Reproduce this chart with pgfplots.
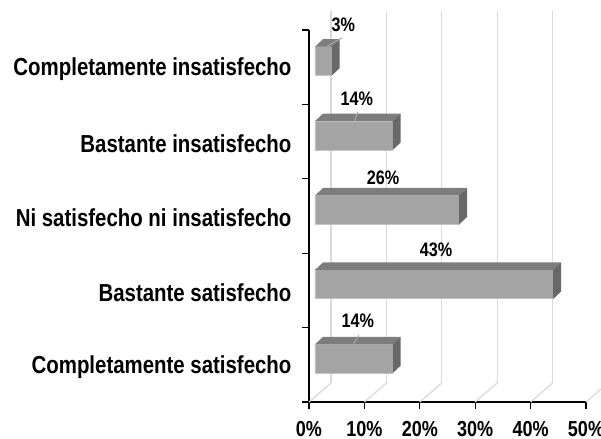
\documentclass[border=0pt]{standalone}
\usepackage{fontspec}
\setmainfont{Liberation Sans}
\newfontfamily\narrowfont[FakeStretch=0.83]{Liberation Sans}
\usepackage{pgfplots}
\usepackage{pgfplotstable}
\pgfplotsset{compat=1.18}
\pgfplotsset{/pgf/number format/assume math mode=true}

\definecolor{barfront}{HTML}{A4A4A4}
\definecolor{baredge}{HTML}{C4C4C4}
\definecolor{bartop}{HTML}{7D7D7D}
\definecolor{barside}{HTML}{686868}
\definecolor{gridgray}{HTML}{D9D9D9}
\definecolor{leadgray}{HTML}{A8A8A8}

% horizontal unit: bp per percentage point
\newcommand\xu{5.54}

% cat: position from the bottom, v: share in %,
% lx/ly: label offsets in bp, la/lb: leader line ends in bp (0 = none)
\pgfplotstableread{
cat v  lx ly   la lb
0   14 10 37   11 6
1   43  8 34   0  0
2   26  2 31.5 0  0
3   14  9 36.5 10 7
4   3  26 35.5 25 10
}\satisf

% top and right faces of a 3D bar, placed at the bar's end
\pgfdeclareplotmark{bar3d}{%
  \pgfmathsetmacro\barlen{\barval*\xu}%
  \pgfsetfillcolor{bartop}%
  \pgfpathmoveto{\pgfpoint{6bp-\barlen bp}{20.5bp}}%
  \pgfpathlineto{\pgfpoint{6bp}{20.5bp}}%
  \pgfpathlineto{\pgfpoint{14bp}{28bp}}%
  \pgfpathlineto{\pgfpoint{14bp-\barlen bp}{28bp}}%
  \pgfpathclose
  \pgfusepath{fill}%
  \pgfsetfillcolor{barside}%
  \pgfpathmoveto{\pgfpoint{6bp}{-8.5bp}}%
  \pgfpathlineto{\pgfpoint{14bp}{-1bp}}%
  \pgfpathlineto{\pgfpoint{14bp}{28bp}}%
  \pgfpathlineto{\pgfpoint{6bp}{20.5bp}}%
  \pgfpathclose
  \pgfusepath{fill}%
}

% short leader from a value label down to its bar (skipped when la = 0)
\pgfdeclareplotmark{leader}{%
  \ifdim\leada pt=0pt\relax\else
    \pgfsetstrokecolor{leadgray}%
    \pgfsetlinewidth{1bp}%
    \pgfpathmoveto{\pgfpoint{\leada bp}{29.5bp}}%
    \pgfpathlineto{\pgfpoint{\leadb bp}{21bp}}%
    \pgfusepath{stroke}%
  \fi
}

\begin{document}
\begin{tikzpicture}
\useasboundingbox (-309bp,-37bp) rectangle (292bp,402bp);
\begin{axis}[
  at={(0,0)}, anchor=south west,
  x=\xu bp, y=74.4bp,
  xmin=0, xmax=50, ymin=-0.5, ymax=4.5,
  clip=false,
  axis x line=bottom, axis y line=left,
  axis line style={-, line width=1.5bp, black},
  tick align=outside,
  major tick length=7bp,
  tick style={line width=1.3bp, black},
  xtick={0,10,...,50},
  xticklabel={\pgfmathprintnumber{\tick}\%},
  xticklabel style={font=\narrowfont\fontsize{21.7bp}{24bp}\selectfont\bfseries, anchor=base, inner sep=0pt, yshift=-27.5bp},
  xmajorgrids,
  major x grid style={draw=gridgray, line width=1.2bp, xshift=22bp, yshift=19bp},
  ytick={-0.5,0.5,...,4.5},
  yticklabels={},
  extra y ticks={0,1,2,3,4},
  extra y tick labels={Completamente satisfecho, Bastante satisfecho, Ni satisfecho ni insatisfecho, Bastante insatisfecho, Completamente insatisfecho},
  extra y tick style={major tick length=0pt},
  yticklabel style={font=\narrowfont\fontsize{24.6bp}{28bp}\selectfont\bfseries, anchor=east, xshift=-14bp, yshift=-2bp},
]
% floor lines running back from each tick
\pgfplotsinvokeforeach{0,10,20,30,40,50}{
  \draw[gridgray, line width=1.2bp] (axis cs:#1,-0.5) -- ++(22bp,19bp);
}
% front faces
\addplot[xbar, bar width=29bp, fill=barfront, draw=baredge, line width=0.8bp,
  xshift=6bp, yshift=6bp] table[x=v, y=cat] {\satisf};
% top and side faces
\addplot[only marks, mark=bar3d,
  visualization depends on={\thisrow{v} \as \barval}] table[x=v, y=cat] {\satisf};
% leader lines
\addplot[only marks, mark=leader,
  visualization depends on={\thisrow{la} \as \leada},
  visualization depends on={\thisrow{lb} \as \leadb}]
  table[x expr=\thisrow{v}/2, y=cat] {\satisf};
% value labels
\addplot[draw=none, mark=none,
  point meta=\thisrow{v},
  visualization depends on={\thisrow{lx} \as \labx},
  visualization depends on={\thisrow{ly} \as \laby},
  nodes near coords={\pgfmathprintnumber{\pgfplotspointmeta}\%},
  every node near coord/.append style={font=\narrowfont\fontsize{19.5bp}{22bp}\selectfont\bfseries,
    anchor=base, xshift=\labx bp, yshift=\laby bp, text=black}]
  table[x expr=\thisrow{v}/2, y=cat] {\satisf};
\end{axis}
\end{tikzpicture}
\end{document}
